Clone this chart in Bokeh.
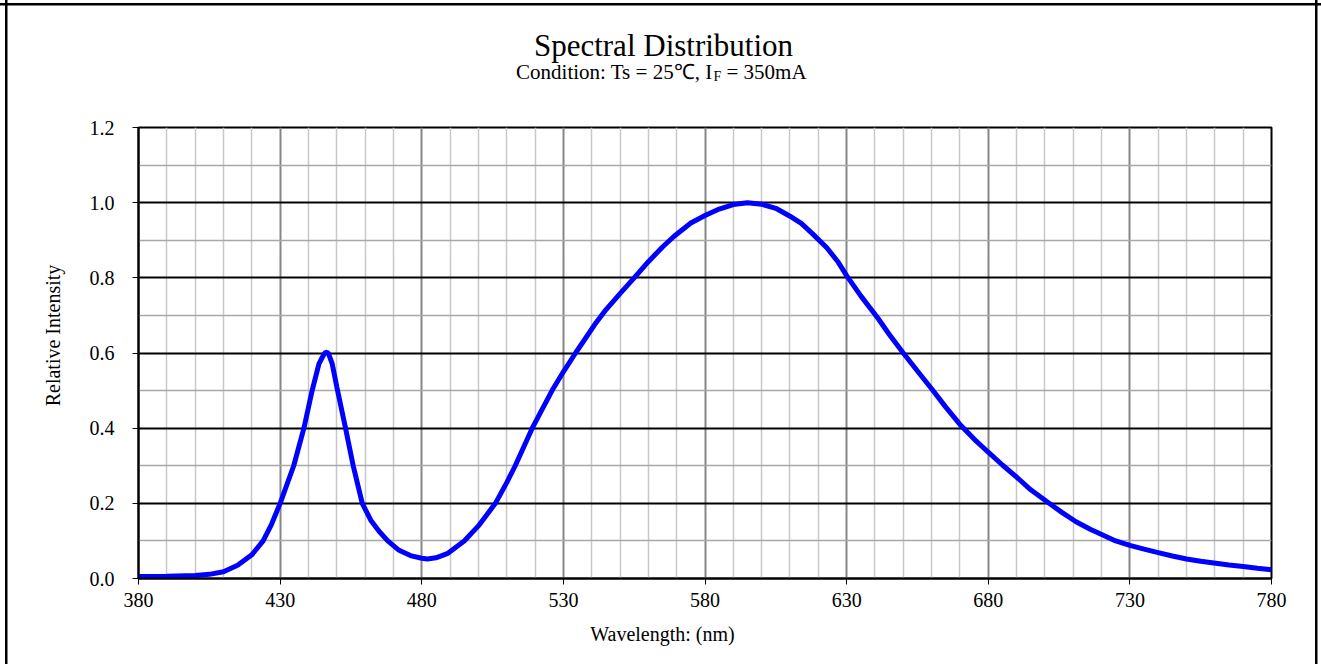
import math
from bokeh.plotting import figure
from bokeh.layouts import column, row
from bokeh.models import Range1d, FixedTicker, PrintfTickFormatter
from bokeh.core.properties import value
from bokeh.embed import file_html
from bokeh.resources import INLINE

# ---- data ----
wavelength = [380, 390, 400, 405, 410, 415, 420, 424, 427, 430, 434.8, 438.4, 441.3,
              443.7, 445, 446, 447, 448.4, 450, 453.1, 455.8, 459, 462, 465,
              468, 472, 476, 480, 482, 485, 489, 495, 500, 506, 510, 513, 519, 526,
              530, 534.3, 541, 545, 550, 555, 560, 565, 569, 575, 580, 585, 590, 595,
              600, 605, 610, 614, 618, 623, 627, 630, 635, 641, 645, 650, 655, 660,
              665, 670, 675, 680, 685, 690, 695, 701, 706, 711, 716, 721, 725, 730,
              735, 740, 745, 750, 755, 761, 765, 770, 775, 780]
intensity = [0.005, 0.006, 0.008, 0.011, 0.018, 0.035, 0.063, 0.10, 0.145, 0.20, 0.30,
             0.40, 0.50, 0.571, 0.59, 0.602, 0.60, 0.571, 0.51, 0.40, 0.30, 0.20,
             0.155, 0.125, 0.10, 0.075, 0.061, 0.054, 0.052, 0.055, 0.066, 0.10, 0.14,
             0.20, 0.255, 0.30, 0.40, 0.50, 0.55, 0.60, 0.675, 0.715, 0.758, 0.80, 0.843,
             0.882, 0.91, 0.946, 0.966, 0.983, 0.995, 1.0, 0.996, 0.985, 0.964, 0.945,
             0.917, 0.880, 0.842, 0.806, 0.752, 0.693, 0.65, 0.60, 0.552, 0.505, 0.456,
             0.410, 0.371, 0.336, 0.302, 0.270, 0.236, 0.203, 0.176, 0.151, 0.131, 0.114,
             0.10, 0.088, 0.078, 0.069, 0.060, 0.052, 0.046, 0.040, 0.036, 0.032,
             0.027, 0.023]

x_ticks = [380, 430, 480, 530, 580, 630, 680, 730, 780]
x_minor = [390, 400, 410, 420, 440, 450, 460, 470, 490, 500, 510, 520, 540, 550, 560,
           570, 590, 600, 610, 620, 640, 650, 660, 670, 690, 700, 710, 720, 740, 750,
           760, 770]
y_ticks = [0.0, 0.2, 0.4, 0.6, 0.8, 1.0, 1.2]
y_minor = [0.1, 0.3, 0.5, 0.7, 0.9, 1.1]

title_text = "Spectral Distribution"
subtitle_a = "Condition: Ts = 25\u2103, I"
subtitle_sub = "F"
subtitle_b = "= 350mA"
x_title = "Wavelength: (nm)"
y_title = "Relative Intensity"

FONT = "Liberation Serif"
W = 1321
BORDER = 2.5
MAIN_H = 10 + 451 + 37          # top border + frame + bottom border
BOTTOM_H = 664 - 117 - MAIN_H


def blank(width, height, yr=None):
    f = figure(width=width, height=height, output_backend="svg", toolbar_location=None,
               title=None,
               x_range=Range1d(0, width), y_range=yr or Range1d(height, 0),
               x_axis_location=None, y_axis_location=None,
               min_border=0, min_border_left=0, min_border_right=0,
               min_border_top=0, min_border_bottom=0)
    f.outline_line_color = None
    f.xgrid.visible = False
    f.ygrid.visible = False
    f.background_fill_color = None
    f.border_fill_color = None
    return f


def css_lines(vlines=(), hlines=()):
    """Outer chart border drawn as CSS backgrounds behind transparent canvases."""
    imgs, sizes, poss = [], [], []
    for xpos in vlines:
        imgs.append("linear-gradient(black, black)")
        sizes.append("%.2fpx 100%%" % BORDER)
        poss.append("%.2fpx 0px" % xpos)
    for ypos in hlines:
        imgs.append("linear-gradient(black, black)")
        sizes.append("100%% %.2fpx" % BORDER)
        poss.append("0px %.2fpx" % ypos)
    return {"background-image": ", ".join(imgs),
            "background-size": ", ".join(sizes),
            "background-position": ", ".join(poss),
            "background-repeat": "no-repeat"}


# ---- title area ----
top = blank(W, 117)
top.text(x=[663], y=[45], text=[title_text], text_font=value(FONT),
         text_font_size=value("31px"), text_align="center", text_baseline="alphabetic",
         text_color="black")
top.text(x=[712], y=[71], text=[subtitle_a], text_font=value(FONT),
         text_font_size=value("21px"), text_align="right", text_baseline="alphabetic",
         text_color="black")
top.text(x=[713], y=[76], text=[subtitle_sub], text_font=value(FONT),
         text_font_size=value("14px"), text_align="left", text_baseline="alphabetic",
         text_color="black")
top.text(x=[726], y=[71], text=[subtitle_b], text_font=value(FONT),
         text_font_size=value("21px"), text_align="left", text_baseline="alphabetic",
         text_color="black")
top.styles = css_lines(vlines=(4.75, 1315.25), hlines=(2.75,))

# ---- y title (its frame is aligned with the main frame: page rows 127..578) ----
left = blank(70, MAIN_H, yr=Range1d(578, 127))
left.text(x=[52], y=[335], text=[y_title], text_font=value(FONT),
          text_font_size=value("20px"), text_align="center", text_baseline="middle",
          angle=math.pi / 2, text_color="black")
left.styles = css_lines(vlines=(4.75,))

# ---- main chart ----
p = figure(width=W - 70, height=MAIN_H, output_backend="svg", toolbar_location=None,
           x_range=Range1d(380, 780), y_range=Range1d(0, 1.2),
           min_border_left=68, min_border_right=50, min_border_top=10,
           min_border_bottom=37)
p.outline_line_color = "black"
p.outline_line_width = 2
p.background_fill_color = "white"
p.border_fill_color = None
p.styles = css_lines(vlines=(1245.25,))

p.xaxis.ticker = FixedTicker(ticks=x_ticks, minor_ticks=x_minor)
p.yaxis.ticker = FixedTicker(ticks=y_ticks, minor_ticks=y_minor)
p.xgrid.ticker = FixedTicker(ticks=x_ticks, minor_ticks=x_minor)
p.ygrid.ticker = FixedTicker(ticks=y_ticks, minor_ticks=y_minor)
p.yaxis.formatter = PrintfTickFormatter(format="%.1f")

for ax in (p.xaxis, p.yaxis):
    ax.axis_line_color = "black"
    ax.axis_line_width = 2
    ax.major_tick_line_color = "black"
    ax.major_tick_line_width = 1
    ax.major_tick_out = 6
    ax.major_tick_in = 0
    ax.minor_tick_line_color = None
    ax.major_label_text_font = FONT
    ax.major_label_text_font_size = "20px"
    ax.major_label_text_color = "black"
p.yaxis.major_label_standoff = 18
p.xaxis.major_label_standoff = 8

p.xgrid.grid_line_color = "#868686"
p.xgrid.grid_line_width = 2
p.xgrid.minor_grid_line_color = "#c8c8c8"
p.xgrid.minor_grid_line_width = 1.5
p.ygrid.grid_line_color = "black"
p.ygrid.grid_line_width = 2
p.ygrid.minor_grid_line_color = "#a8a8a8"
p.ygrid.minor_grid_line_width = 1.5

p.line(wavelength, intensity, line_color="#0000FF", line_width=5)

# ---- x title ----
bottom = blank(W, BOTTOM_H)
bottom.text(x=[662], y=[633 - 117 - MAIN_H], text=[x_title], text_font=value(FONT),
            text_font_size=value("20px"), text_align="center", text_baseline="alphabetic",
            text_color="black")
bottom.styles = css_lines(vlines=(4.75, 1315.25))

layout = column(top, row(left, p, spacing=0), bottom, spacing=0)

open("out.html", "w").write(file_html(layout, INLINE))
